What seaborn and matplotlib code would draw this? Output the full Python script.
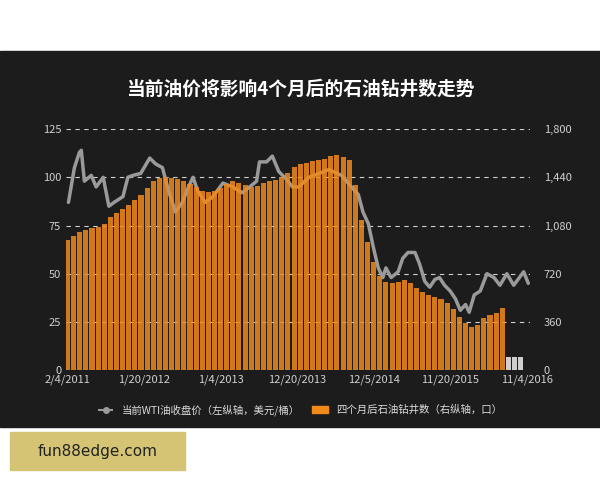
import numpy as np
import pandas as pd
import seaborn as sns
import matplotlib
matplotlib.use("Agg")
import matplotlib.pyplot as plt
from matplotlib.patches import Rectangle
from matplotlib.lines import Line2D
from matplotlib.patches import Patch

# x positions in weeks since 2/4/2011
tick_pos = [0, 50, 100, 150, 200, 250, 300]
tick_labels = ["2/4/2011", "1/20/2012", "1/4/2013", "12/20/2013", "12/5/2014", "11/20/2015", "11/4/2016"]

line_weeks = [0.6,4.5,7.8,9,11,15.5,18.7,23.3,27,30.4,36.2,39.4,42.7,47.8,53.7,57.5,62,66,70.5,75,
              79,82,85,90,95,101.5,108,114,119,123.5,125.4,130,133.8,138,143,147,151,157.7,170.6,179,
              185.5,190,193,196.5,199.7,203,206,208,211.4,216,219,222.4,227,230,233.4,236.6,240,243,246.3,250,
              253.4,256.6,260,262.4,265.7,269.6,274,278.6,282.5,287,291.5,298,301]
wti_price = [87,105,113,114,98,101,95,100,85,87,90,100,101,102,110,107,105,93,82,87,
             95,100,93,87,90,97,95,92,95,98,108,108,111,103,99,95,95,100,104,101,
             95,91,82,76,64,53,48,53,48,51,58,61,61,55,46,43,47,48,44,41,
             37,31,34,30,39,41,50,48,44,50,44,51,45]

bar_weeks = list(range(0, 288, 4))
rig_count = [975,1000,1035,1050,1065,1070,1090,1140,1170,1200,1230,1270,1310,1360,1410,1435,1440,1435,1425,1415,
             1390,1370,1335,1330,1340,1360,1390,1410,1395,1380,1370,1375,1395,1410,1420,1440,1470,1520,1540,1550,
             1560,1570,1580,1600,1605,1595,1570,1380,1120,960,810,700,660,650,660,675,650,610,580,560,
             545,530,500,460,400,355,325,340,390,410,430,465]
gray_weeks = [288, 292, 296]
gray_count = [100, 100, 100]

sns.set_style("dark")
plt.rcParams['font.family'] = ['Noto Sans CJK SC', 'DejaVu Sans']

fig = plt.figure(figsize=(6, 4.8), dpi=100)
fig.patch.set_facecolor("white")
bg = "#1c1c1c"
fig.patches.append(Rectangle((0, 0.110), 1, 0.783, transform=fig.transFigure, color=bg, zorder=-10))

ax = fig.add_axes([0.11, 0.229, 0.773, 0.502])
ax.set_facecolor(bg)
df = pd.DataFrame({"week": line_weeks, "price": wti_price})
sns.lineplot(data=df, x="week", y="price", ax=ax, color="#9a9a9a", linewidth=2.5)
ax.set_ylim(0, 125)
ax.set_xlim(-1, 302)
ax.set_yticks([0, 25, 50, 75, 100, 125])
ax.grid(axis="y", color="#cfcfcf", linestyle=(0, (4, 4)), linewidth=0.8)
ax.grid(axis="x", visible=False)
ax.set_xticks(tick_pos)
ax.set_xticklabels(tick_labels)
ax.set_xlabel(""); ax.set_ylabel("")
ax.tick_params(colors="#d0d0d0", labelsize=8, length=0)
for s in ax.spines.values():
    s.set_visible(False)

ax2 = ax.twinx()
ax2.bar(bar_weeks, rig_count, width=3.3, color="#f28a1a", alpha=0.85, linewidth=0)
ax2.bar(gray_weeks, gray_count, width=3.0, color="#cfcfcf", linewidth=0)
ax2.set_ylim(0, 1800)
ax2.set_yticks([0, 360, 720, 1080, 1440, 1800])
ax2.set_yticklabels(["0", "360", "720", "1,080", "1,440", "1,800"])
ax2.tick_params(colors="#d0d0d0", labelsize=8, length=0, pad=10)
ax2.grid(False)
for s in ax2.spines.values():
    s.set_visible(False)

fig.text(0.5, 0.815, "当前油价将影响4个月后的石油钻井数走势", color="white",
         fontsize=13.5, fontweight="bold", ha="center", va="center")

handles = [Line2D([0], [0], color="#9a9a9a", linestyle="--", marker="o", markersize=4, linewidth=1.5),
           Patch(color="#f28a1a")]
labels = ["当前WTI油收盘价（左纵轴，美元/桶）", "四个月后石油钻井数（右纵轴，口）"]
leg = fig.legend(handles, labels, loc="center", bbox_to_anchor=(0.5, 0.146), ncol=2,
                 frameon=False, fontsize=7.5, handlelength=1.5, columnspacing=1.2)
for t in leg.get_texts():
    t.set_color("#dddddd")

fig.patches.append(Rectangle((0.017, 0.021), 0.292, 0.079, transform=fig.transFigure,
                             color="#d4c473", zorder=5))
fig.text(0.163, 0.06, "fun88edge.com", color="#222222", fontsize=11, ha="center", va="center",
         family="DejaVu Sans", zorder=6)

fig.savefig("out.png", dpi=100, facecolor=fig.get_facecolor())
